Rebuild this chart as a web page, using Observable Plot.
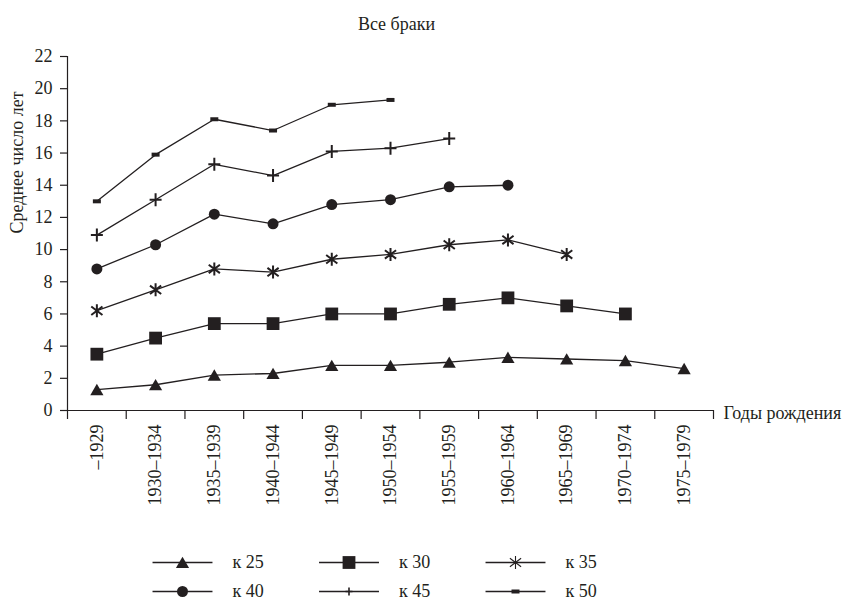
<!DOCTYPE html>
<html>
<head>
<meta charset="utf-8">
<script src="https://cdn.jsdelivr.net/npm/d3@7"></script>
<script src="https://cdn.jsdelivr.net/npm/@observablehq/plot@0.6"></script>
<style>
  html, body { margin: 0; padding: 0; background: #fff; }
  #chart svg { display: block; }
  #chart svg, #chart svg text { font-family: "Liberation Serif", "Times New Roman", serif !important; }
</style>
</head>
<body>
<div id="chart"></div>
<script>
// ---- data ----
const title = "Все браки";
const yLabel = "Среднее число лет";
const xLabel = "Годы рождения";
const categories = ["–1929", "1930–1934", "1935–1939", "1940–1944", "1945–1949",
  "1950–1954", "1955–1959", "1960–1964", "1965–1969", "1970–1974", "1975–1979"];
const yTicks = [0, 2, 4, 6, 8, 10, 12, 14, 16, 18, 20, 22];
const seriesNames = ["к 25", "к 30", "к 35", "к 40", "к 45", "к 50"];
const k25 = [1.3, 1.6, 2.2, 2.3, 2.8, 2.8, 3.0, 3.3, 3.2, 3.1, 2.6];
const k30 = [3.5, 4.5, 5.4, 5.4, 6.0, 6.0, 6.6, 7.0, 6.5, 6.0];
const k35 = [6.2, 7.5, 8.8, 8.6, 9.4, 9.7, 10.3, 10.6, 9.7];
const k40 = [8.8, 10.3, 12.2, 11.6, 12.8, 13.1, 13.9, 14.0];
const k45 = [10.9, 13.1, 15.3, 14.6, 16.1, 16.3, 16.9];
const k50 = [13.0, 15.9, 18.1, 17.4, 19.0, 19.3];

const ink = "#231f20";
const font = "Liberation Serif, Times New Roman, serif";

// ---- custom symbols ----
const symTriangle = {draw(c) { c.moveTo(0, -5.8); c.lineTo(6.6, 5.6); c.lineTo(-6.6, 5.6); c.closePath(); }};
const symSquare = {draw(c) { c.rect(-6.4, -6.4, 12.8, 12.8); }};
const symCircle = {draw(c) { c.moveTo(5.5, 0); c.arc(0, 0, 5.5, 0, 2 * Math.PI); c.closePath(); }};
const symAsterisk = {draw(c) {
  c.moveTo(0, -6.5); c.lineTo(0, 6.5);
  c.moveTo(-5.6, -4.2); c.lineTo(5.6, 4.2);
  c.moveTo(-5.6, 4.2); c.lineTo(5.6, -4.2);
}};
const symPlus = {draw(c) { c.moveTo(-6, 0); c.lineTo(6, 0); c.moveTo(0, -6.5); c.lineTo(0, 6.5); }};
const symPlusSmall = {draw(c) { c.moveTo(-3.5, 0); c.lineTo(3.5, 0); c.moveTo(0, -4); c.lineTo(0, 4); }};
const symBar = {draw(c) { c.rect(-4, -2, 8, 4); }};

const styles = [
  {sym: symTriangle, filled: true},
  {sym: symSquare, filled: true},
  {sym: symAsterisk, filled: false, sw: 2},
  {sym: symCircle, filled: true},
  {sym: symPlus, filled: false, sw: 2},
  {sym: symBar, filled: true}
];
const legendSyms = [symTriangle, symSquare, symAsterisk, symCircle, symPlusSmall, symBar];

const seriesValues = [k25, k30, k35, k40, k45, k50];
const rows = [];
seriesValues.forEach((vals, s) => vals.forEach((v, i) => rows.push({s: seriesNames[s], i, v})));

const pos = d => d.i + 0.5;

const dotMarks = seriesNames.map((name, s) => {
  const st = styles[s];
  const data = rows.filter(d => d.s === name);
  return st.filled
    ? Plot.dot(data, {x: pos, y: "v", symbol: st.sym, r: 5, fill: ink, stroke: "none"})
    : Plot.dot(data, {x: pos, y: "v", symbol: st.sym, r: 5, fill: "none", stroke: ink, strokeWidth: st.sw});
});

const main = Plot.plot({
  width: 854,
  height: 540,
  marginTop: 56,
  marginLeft: 67,
  marginRight: 141,
  marginBottom: 130,
  style: {fontFamily: font, fontSize: "18px", color: ink, background: "#fff"},
  x: {domain: [0, categories.length], axis: null},
  y: {domain: [0, 22], axis: null},
  marks: [
    Plot.ruleY([0], {stroke: ink, strokeWidth: 1.2}),
    Plot.ruleX([0], {stroke: ink, strokeWidth: 1.2}),
    Plot.axisY({ticks: yTicks, label: null, tickSize: 7, tickPadding: 8, fontSize: 18, stroke: ink, fill: ink, strokeWidth: 1.2}),
    Plot.axisX({ticks: d3.range(categories.length + 1), label: null, tickSize: 9, tickPadding: 0, tickFormat: () => "", stroke: ink, strokeWidth: 1.2}),
    Plot.text(categories, {x: (d, i) => i + 0.5, y: () => 0, rotate: -90, textAnchor: "end", lineAnchor: "middle", dy: 14, fontSize: 18, fill: ink}),
    Plot.text([yLabel], {frameAnchor: "left", rotate: -90, dx: -50, fontSize: 18, fill: ink}),
    Plot.text([title], {frameAnchor: "top", dy: -39, dx: 6, fontSize: 18, fill: ink}),
    Plot.text([xLabel], {frameAnchor: "bottom-right", textAnchor: "start", dx: 10, dy: 8, fontSize: 18, fill: ink}),
    Plot.line(rows, {x: pos, y: "v", z: "s", stroke: ink, strokeWidth: 1.3}),
    ...dotMarks
  ]
});

// ---- legend ----
const legendItems = seriesNames.map((name, k) => ({name, col: k % 3, row: Math.floor(k / 3), k}));
const legendDots = legendItems.map(d => {
  const st = styles[d.k];
  return st.filled
    ? Plot.dot([d], {x: "col", y: "row", symbol: legendSyms[d.k], r: 5, fill: ink, stroke: "none"})
    : Plot.dot([d], {x: "col", y: "row", symbol: legendSyms[d.k], r: 5, fill: "none", stroke: ink, strokeWidth: d.k === 2 ? 1.1 : 1.6});
});
const legend = Plot.plot({
  width: 854,
  height: 60,
  marginTop: 22,
  marginBottom: 9,
  marginLeft: 182,
  marginRight: 339,
  style: {fontFamily: font, fontSize: "18px", color: ink, background: "#fff"},
  x: {domain: [0, 2], axis: null},
  y: {domain: [0, 1], axis: null, reverse: true},
  marks: [
    Plot.link(legendItems, {x1: d => d.col - 0.18, x2: d => d.col + 0.18, y1: "row", y2: "row", stroke: ink, strokeWidth: 1.3}),
    ...legendDots,
    Plot.text(legendItems, {x: d => d.col + 0.3, y: "row", text: "name", textAnchor: "start", fontSize: 18, fill: ink})
  ]
});

const el = document.getElementById("chart");
el.appendChild(main);
el.appendChild(legend);
</script>
</body>
</html>
